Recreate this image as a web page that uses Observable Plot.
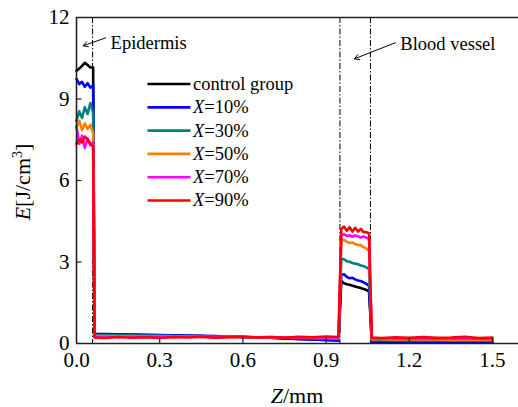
<!DOCTYPE html>
<html><head><meta charset="utf-8">
<script src="https://cdn.jsdelivr.net/npm/d3@7"></script>
<script src="https://cdn.jsdelivr.net/npm/@observablehq/plot@0.6"></script>
<style>
body{margin:0;background:#fff;}
#chart svg{display:block;}
</style></head><body><div id="chart"></div>
<script>
// depth Z (mm)
const z = [0,0.01,0.02,0.03,0.04,0.05,0.06,
  0.065,0.1,0.15,0.2,0.25,0.3,0.35,0.4,0.45,0.5,0.55,0.6,0.65,0.7,0.75,0.8,0.85,0.9,0.945,
  0.955,0.965,0.975,0.985,0.995,1.005,1.015,1.025,1.035,1.045,1.055,
  1.065,1.1,1.15,1.2,1.25,1.3,1.35,1.4,1.45,1.5];

const control = [10.04,10.12,10.22,10.33,10.25,10.16,10.16,
  0.35,0.34,0.33,0.32,0.31,0.30,0.29,0.28,0.27,0.26,0.25,0.24,0.22,0.21,0.19,0.17,0.15,0.13,0.11,
  2.30,2.22,2.18,2.16,2.13,2.10,2.07,2.04,2.01,1.97,1.92,
  0.06,0.06,0.06,0.05,0.05,0.05,0.05,0.05,0.04,0.04];
const x10 = [9.74,9.55,9.63,9.45,9.58,9.42,9.50,
  0.36,0.35,0.34,0.33,0.32,0.31,0.30,0.29,0.28,0.27,0.26,0.24,0.23,0.21,0.19,0.17,0.15,0.13,0.11,
  2.52,2.55,2.45,2.40,2.42,2.36,2.32,2.30,2.25,2.20,2.12,
  0.08,0.08,0.08,0.07,0.07,0.07,0.07,0.06,0.06,0.06];
const x30 = [8.20,8.55,8.30,8.70,8.45,8.85,8.50,
  0.31,0.30,0.30,0.29,0.29,0.28,0.27,0.27,0.26,0.25,0.25,0.24,0.23,0.22,0.21,0.20,0.19,0.18,0.17,
  3.12,3.10,3.03,3.01,2.96,2.94,2.92,2.87,2.85,2.80,2.74,
  0.12,0.12,0.11,0.11,0.11,0.11,0.10,0.10,0.10,0.10];
const x50 = [7.95,8.20,7.85,8.10,7.90,8.05,7.75,
  0.27,0.27,0.26,0.27,0.26,0.26,0.25,0.26,0.25,0.24,0.25,0.24,0.23,0.23,0.22,0.22,0.21,0.21,0.20,
  3.78,3.82,3.74,3.70,3.72,3.66,3.63,3.62,3.55,3.50,3.40,
  0.16,0.16,0.15,0.15,0.15,0.15,0.14,0.14,0.14,0.14];
const x70 = [8.00,7.35,7.65,7.20,7.55,7.30,7.40,
  0.24,0.25,0.23,0.25,0.24,0.24,0.23,0.25,0.24,0.23,0.24,0.24,0.23,0.24,0.22,0.23,0.22,0.23,0.22,
  3.98,4.02,3.96,3.98,3.93,3.98,3.95,3.90,3.94,3.90,3.85,
  0.19,0.19,0.19,0.18,0.18,0.19,0.18,0.18,0.18,0.17];
const x90 = [7.35,7.50,7.40,7.62,7.50,7.35,7.25,
  0.22,0.20,0.24,0.21,0.23,0.20,0.24,0.22,0.25,0.21,0.23,0.25,0.22,0.24,0.21,0.25,0.23,0.26,0.24,
  4.22,4.30,4.15,4.28,4.12,4.26,4.12,4.22,4.10,4.10,4.05,
  0.22,0.20,0.23,0.21,0.24,0.21,0.22,0.25,0.20,0.22];

const seriesNames = ["control group","X=10%","X=30%","X=50%","X=70%","X=90%"];
const seriesColors = ["#000000","#0000ff","#008080","#ff8000","#ff00ff","#ff0000"];
const seriesValues = [control, x10, x30, x50, x70, x90];
const xTicks = [0,0.3,0.6,0.9,1.2,1.5];
const yTicks = [0,3,6,9,12];
const boundaries = [0.058, 0.95, 1.06];
const annotations = [
  {label: "Epidermis", x1: 0.105, y1: 11.25, x2: 0.024, y2: 10.96, tx: 0.123, ty: 11.07},
  {label: "Blood vessel", x1: 1.150, y1: 11.07, x2: 1.0025, y2: 10.48, tx: 1.168, ty: 11.03}
];

const rows = seriesValues.flatMap((vals, s) => vals.map((v, i) => ({z: z[i], e: v, s: seriesNames[s]})));
const legend = seriesNames.map((name, i) => ({name, color: seriesColors[i], y: 9.55 - i * 0.857}));

const serif = "'Liberation Serif', 'Times New Roman', Times, 'DejaVu Serif', serif";
const frameStroke = "#222";
const plot = Plot.plot({
  width: 518, height: 407,
  marginLeft: 76, marginRight: 0, marginTop: 17, marginBottom: 64,
  x: {domain: [0, 1.594], label: null},
  y: {domain: [0, 12], label: null},
  color: {domain: seriesNames, range: seriesColors},
  style: {fontFamily: serif, fontSize: "21px", background: "white", color: "black"},
  marks: [
    Plot.axisX({ticks: xTicks, tickSize: 0, tickPadding: 9, tickFormat: d3.format(".1f"), label: null, fontFamily: serif, fontSize: 21}),
    Plot.axisY({ticks: yTicks, tickSize: 0, tickPadding: 7, label: null, fontFamily: serif, fontSize: 21}),
    Plot.ruleX(boundaries, {stroke: "black", strokeWidth: 1, strokeDasharray: "6,2,1.5,2"}),
    Plot.line(rows, {x: "z", y: "e", z: "s", stroke: "s", strokeWidth: 2.6}),
    Plot.ruleX([0], {stroke: frameStroke, strokeWidth: 1.6}),
    Plot.ruleY([0, 12], {stroke: frameStroke, strokeWidth: 1.6}),
    Plot.ruleX(xTicks.slice(1), {y1: 0, y2: 0.2, stroke: frameStroke, strokeWidth: 1.2}),
    Plot.ruleY(yTicks.slice(1, -1), {x1: 0, x2: 0.02, stroke: frameStroke, strokeWidth: 1.2}),
    Plot.link(legend, {x1: 0.256, x2: 0.411, y1: "y", y2: "y", stroke: "color", strokeWidth: 2.6}),
    Plot.text(legend, {x: 0.42, y: "y", text: "name", textAnchor: "start", fontSize: 18.5, fontFamily: serif, fill: "black"}),
    Plot.arrow(annotations, {x1: "x1", y1: "y1", x2: "x2", y2: "y2", stroke: "black", strokeWidth: 1, headLength: 8, bend: 0}),
    Plot.text(annotations, {x: "tx", y: "ty", text: "label", textAnchor: "start", fontSize: 18.5, fontFamily: serif, fill: "black"})
  ]
});
document.getElementById("chart").appendChild(plot);

const svg = d3.select(plot);
// italic X in legend labels
svg.selectAll("text").each(function() {
  const t = d3.select(this);
  const s = this.textContent;
  if (/^X=/.test(s) && this.childNodes.length === 1) {
    t.text(null);
    t.append("tspan").attr("font-style", "italic").text("X");
    t.append("tspan").text(s.slice(1));
  }
});
// axis titles
const xt = svg.append("text").attr("x", 297).attr("y", 403).attr("text-anchor", "middle")
  .attr("font-size", 22).attr("fill", "black");
xt.append("tspan").attr("font-style", "italic").text("Z");
xt.append("tspan").text("/mm");
const yt = svg.append("text").attr("transform", "translate(30,182) rotate(-90)").attr("text-anchor", "middle")
  .attr("font-size", 22).attr("fill", "black");
yt.append("tspan").attr("font-style", "italic").text("E");
yt.append("tspan").text("[J/cm");
yt.append("tspan").attr("font-size", 14).attr("dy", -8).text("3");
yt.append("tspan").attr("dy", 8).text("]");
svg.selectAll("text, g").attr("font-family", serif).style("font-family", serif);
</script></body></html>
